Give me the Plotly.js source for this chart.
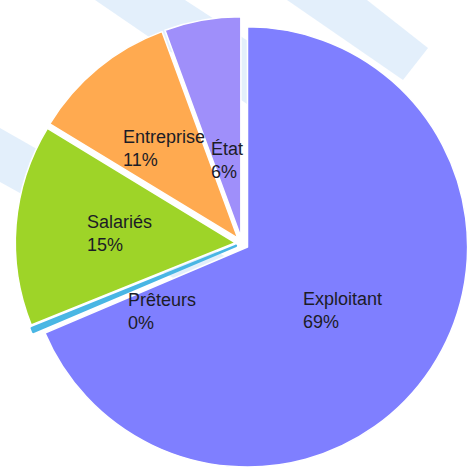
<!DOCTYPE html>
<html>
<head>
<meta charset="utf-8">
<script src="https://cdn.plot.ly/plotly-3.0.1.min.js"></script>
<style>html,body{margin:0;padding:0;background:#fff;}#chart{width:472px;height:470px;}</style>
</head>
<body>
<div id="chart"></div>
<script>
// ---- data ----
const labels = ["Exploitant", "Prêteurs", "Salariés", "Entreprise", "État"];
const shares = [68.6, 0.3, 14.8, 10.7, 5.6];
const pctText = ["69%", "0%", "15%", "11%", "6%"];
const colors = ["#7f7fff", "#4cb8e2", "#9ed428", "#ffaa50", "#9f8ffa"];

// ---- layout / style constants ----
const W = 472, H = 470;
const CX = 242, CY = 243.3, HALF = 226.7;   // pie box (pixels)
const PULL = 0.03;
const R = HALF / (1 + PULL);
const labelK = [0.52, 0.45, 0.53, 0.53, 0.35];     // radial factor for label
const labelDA = [0, -19, 0, 0, 0];                   // angular nudge (deg)
const lineColors = ["#ffffff", "#49b6e4", "#ffffff", "#ffffff", "#ffffff"];
const lineWidths = [1.5, 2.5, 1.5, 1.5, 1.5];

const domX = [(CX - HALF) / W, (CX + HALF) / W];
const domY = [(H - (CY + HALF)) / H, (H - (CY - HALF)) / H];

// label positions derived from the slice angles
const total = shares.reduce((a, b) => a + b, 0);
let cum = 0;
const annotations = labels.map((lab, i) => {
  const a0 = cum / total * 360;
  cum += shares[i];
  const a1 = cum / total * 360;
  const mid = (a0 + a1) / 2 * Math.PI / 180;
  const la = ((a0 + a1) / 2 + labelDA[i]) * Math.PI / 180;
  const px = CX + PULL * R * Math.sin(mid) + labelK[i] * R * Math.sin(la);
  const py = CY - PULL * R * Math.cos(mid) - labelK[i] * R * Math.cos(la);
  return {
    x: px / W, y: 1 - py / H, xref: 'paper', yref: 'paper',
    text: lab + '<br>' + pctText[i], showarrow: false,
    xanchor: 'center', yanchor: 'middle', align: 'left',
    font: {family: 'Arial, "Liberation Sans", sans-serif', size: 18, color: '#1c1c26'}
  };
});

// faint watermark bands (decoration, behind the pie)
function band(pts) {
  return {
    type: 'path', xref: 'paper', yref: 'paper', layer: 'below',
    path: 'M ' + pts.map(p => (p[0] / W).toFixed(4) + ',' + (1 - p[1] / H).toFixed(4)).join(' L ') + ' Z',
    fillcolor: 'rgba(215,232,250,0.7)', line: {width: 0}
  };
}
const shapes = [
  band([[0, 128], [235, 262], [235, 312], [0, 182]]),
  band([[95, 0], [185, 0], [400, 140], [380, 195]]),
  band([[287, 0], [367, 0], [428, 48], [403, 80]])
];

const trace = {
  type: 'pie',
  labels: labels,
  values: shares,
  sort: false,
  direction: 'clockwise',
  rotation: 0,
  pull: labels.map(() => PULL),
  textinfo: 'none',
  hoverinfo: 'label+percent',
  marker: {colors: colors, line: {color: lineColors, width: lineWidths}},
  domain: {x: domX, y: domY},
  showlegend: false
};

Plotly.newPlot('chart', [trace], {
  width: W, height: H,
  margin: {l: 0, r: 0, t: 0, b: 0},
  paper_bgcolor: '#ffffff',
  showlegend: false,
  annotations: annotations,
  shapes: shapes
}, {staticPlot: true});
</script>
</body>
</html>
